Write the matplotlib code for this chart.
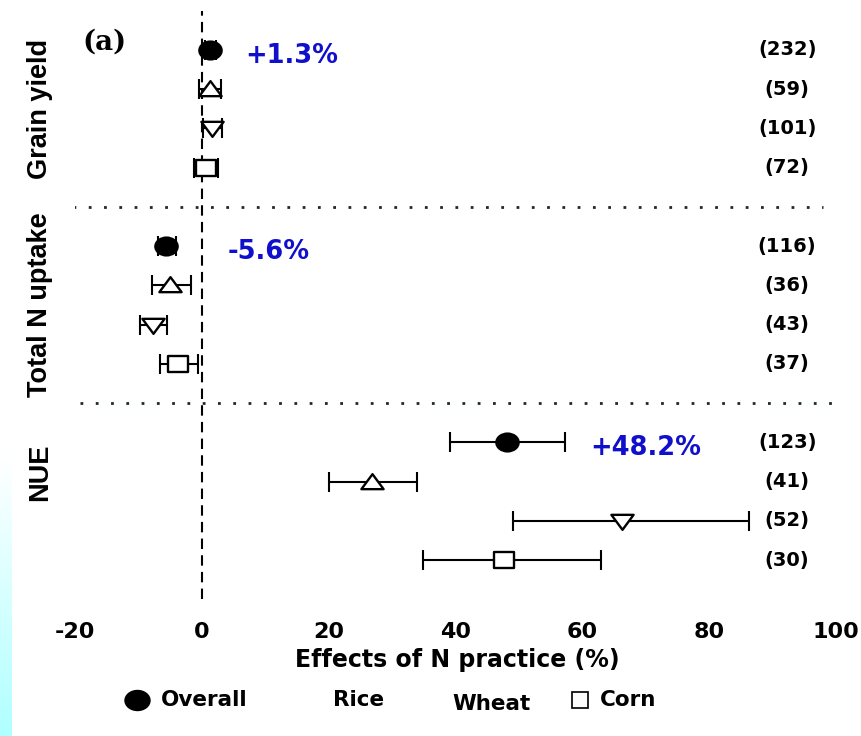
import numpy as np
import matplotlib
matplotlib.use("Agg")
import matplotlib.pyplot as plt
from matplotlib.lines import Line2D
from matplotlib.path import Path

plt.rcParams["font.family"] = ["DejaVu Sans"]
plt.rcParams["font.weight"] = "bold"

# Data (effect size in %, with error bar bounds)
groups = ["Grain yield", "Total N uptake", "NUE"]
crops = ["Overall", "Rice", "Wheat", "Corn"]
means = [
    [1.3, 1.3, 1.6, 0.6],
    [-5.6, -5.0, -7.7, -3.8],
    [48.2, 26.8, 66.3, 47.7],
]
lower = [
    [0.5, -0.5, 0.2, -1.3],
    [-6.9, -7.9, -9.8, -6.6],
    [39.2, 20.1, 49.0, 34.8],
]
upper = [
    [2.2, 3.0, 3.2, 2.5],
    [-4.1, -1.7, -5.5, -0.6],
    [57.2, 34.0, 86.3, 63.0],
]
counts = [
    [232, 59, 101, 72],
    [116, 36, 43, 37],
    [123, 41, 52, 30],
]
overall_labels = ["+1.3%", "-5.6%", "+48.2%"]
overall_label_x = [6.8, 4.1, 61.2]
xticks = [-20, 0, 20, 40, 60, 80, 100]

# slightly wide markers, like the reference
circ = Path.unit_circle()
ellipse = Path(circ.vertices * [1.0, 0.8], circ.codes)
tri_up = Path([(-1, -0.6), (1, -0.6), (0, 0.75), (-1, -0.6)], closed=True)
tri_down = Path([(-1, 0.6), (1, 0.6), (0, -0.75), (-1, 0.6)], closed=True)
box = Path([(-1, -0.8), (1, -0.8), (1, 0.8), (-1, 0.8), (-1, -0.8)], closed=True)
markers = {"Overall": ellipse, "Rice": tri_up, "Wheat": tri_down, "Corn": box}
msize = {"Overall": 16, "Rice": 16, "Wheat": 16, "Corn": 14}

fig = plt.figure(figsize=(8.62, 7.36), dpi=100)

# faint cyan strip on the left edge
strip = fig.add_axes([0, 0, 0.013, 0.38])
grad = np.linspace(0, 1, 100).reshape(-1, 1)
cmap = matplotlib.colors.LinearSegmentedColormap.from_list("c", ["#ffffff", "#b0ffff"])
strip.imshow(grad, aspect="auto", cmap=cmap, origin="upper")
strip.axis("off")

ax = fig.add_axes([0.087, 0.1855, 0.8828, 0.7999])
ax.set_xlim(-20, 100)
ax.set_ylim(14, -1)

for g in range(3):
    for c, crop in enumerate(crops):
        y = g * 5 + c
        m = means[g][c]
        err = [[m - lower[g][c]], [upper[g][c] - m]]
        face = "black" if crop == "Overall" else "white"
        ax.errorbar(m, y, xerr=err, fmt="none", ecolor="black", elinewidth=1.5,
                    capsize=7, capthick=1.5, zorder=2)
        ax.plot(m, y, marker=markers[crop], ms=msize[crop], mfc=face, mec="black",
                mew=1.7, ls="none", zorder=3)
        ax.text(92.3, y, f"({counts[g][c]})", ha="center", va="center",
                fontsize=14, fontweight="bold")
    ax.text(overall_label_x[g], g * 5 + 0.15, overall_labels[g], ha="left", va="center",
            fontsize=18.5, fontweight="bold", color="#1010cc")

ax.axvline(0, color="black", ls=(0, (5, 3)), lw=1.5, zorder=1)
ax.hlines(4, -20.3, 98, colors="#1a2e1a", linestyles=(0, (1, 4.5)), lw=2)
ax.hlines(9, -19.2, 99.5, colors="#1a2e1a", linestyles=(0, (1, 4.5)), lw=2)

for s in ax.spines.values():
    s.set_visible(False)
ax.set_yticks([])
ax.set_xticks(xticks)
ax.set_xticklabels([str(t) for t in xticks], fontsize=16, fontweight="bold")
ax.tick_params(axis="x", length=0, pad=16)

# group labels on the left
glab_y = [1.5, 6.5, 10.75]
for g in range(3):
    ax.text(-25.5, glab_y[g], groups[g], rotation=90, ha="center", va="center",
            fontsize=19.5, fontweight="bold",
            family=["Liberation Sans Narrow", "Liberation Sans"])

fig.text(82 / 862, 1 - 42 / 736, "(a)", va="center", fontsize=20, fontweight="bold",
         family="DejaVu Serif")
fig.text(457 / 862, 1 - 660 / 736, "Effects of N practice (%)", ha="center", va="center",
         fontsize=17, fontweight="bold")

# legend row
ly = 1 - 700 / 736
fig.add_artist(Line2D([137 / 862], [ly], marker=ellipse, ms=18, mfc="black", mec="black",
                      transform=fig.transFigure))
fig.text(161 / 862, ly, "Overall", ha="left", va="center", fontsize=15.5, fontweight="bold")
fig.text(333 / 862, ly, "Rice", ha="left", va="center", fontsize=15.5, fontweight="bold")
fig.text(452 / 862, ly - 0.005, "Wheat", ha="left", va="center", fontsize=15.5,
         fontweight="bold")
fig.add_artist(Line2D([580 / 862], [ly], marker="s", ms=12, mfc="white", mec="black",
                      mew=1.2, transform=fig.transFigure))
fig.text(600 / 862, ly, "Corn", ha="left", va="center", fontsize=15.5, fontweight="bold")

fig.savefig("out.png", dpi=100)
